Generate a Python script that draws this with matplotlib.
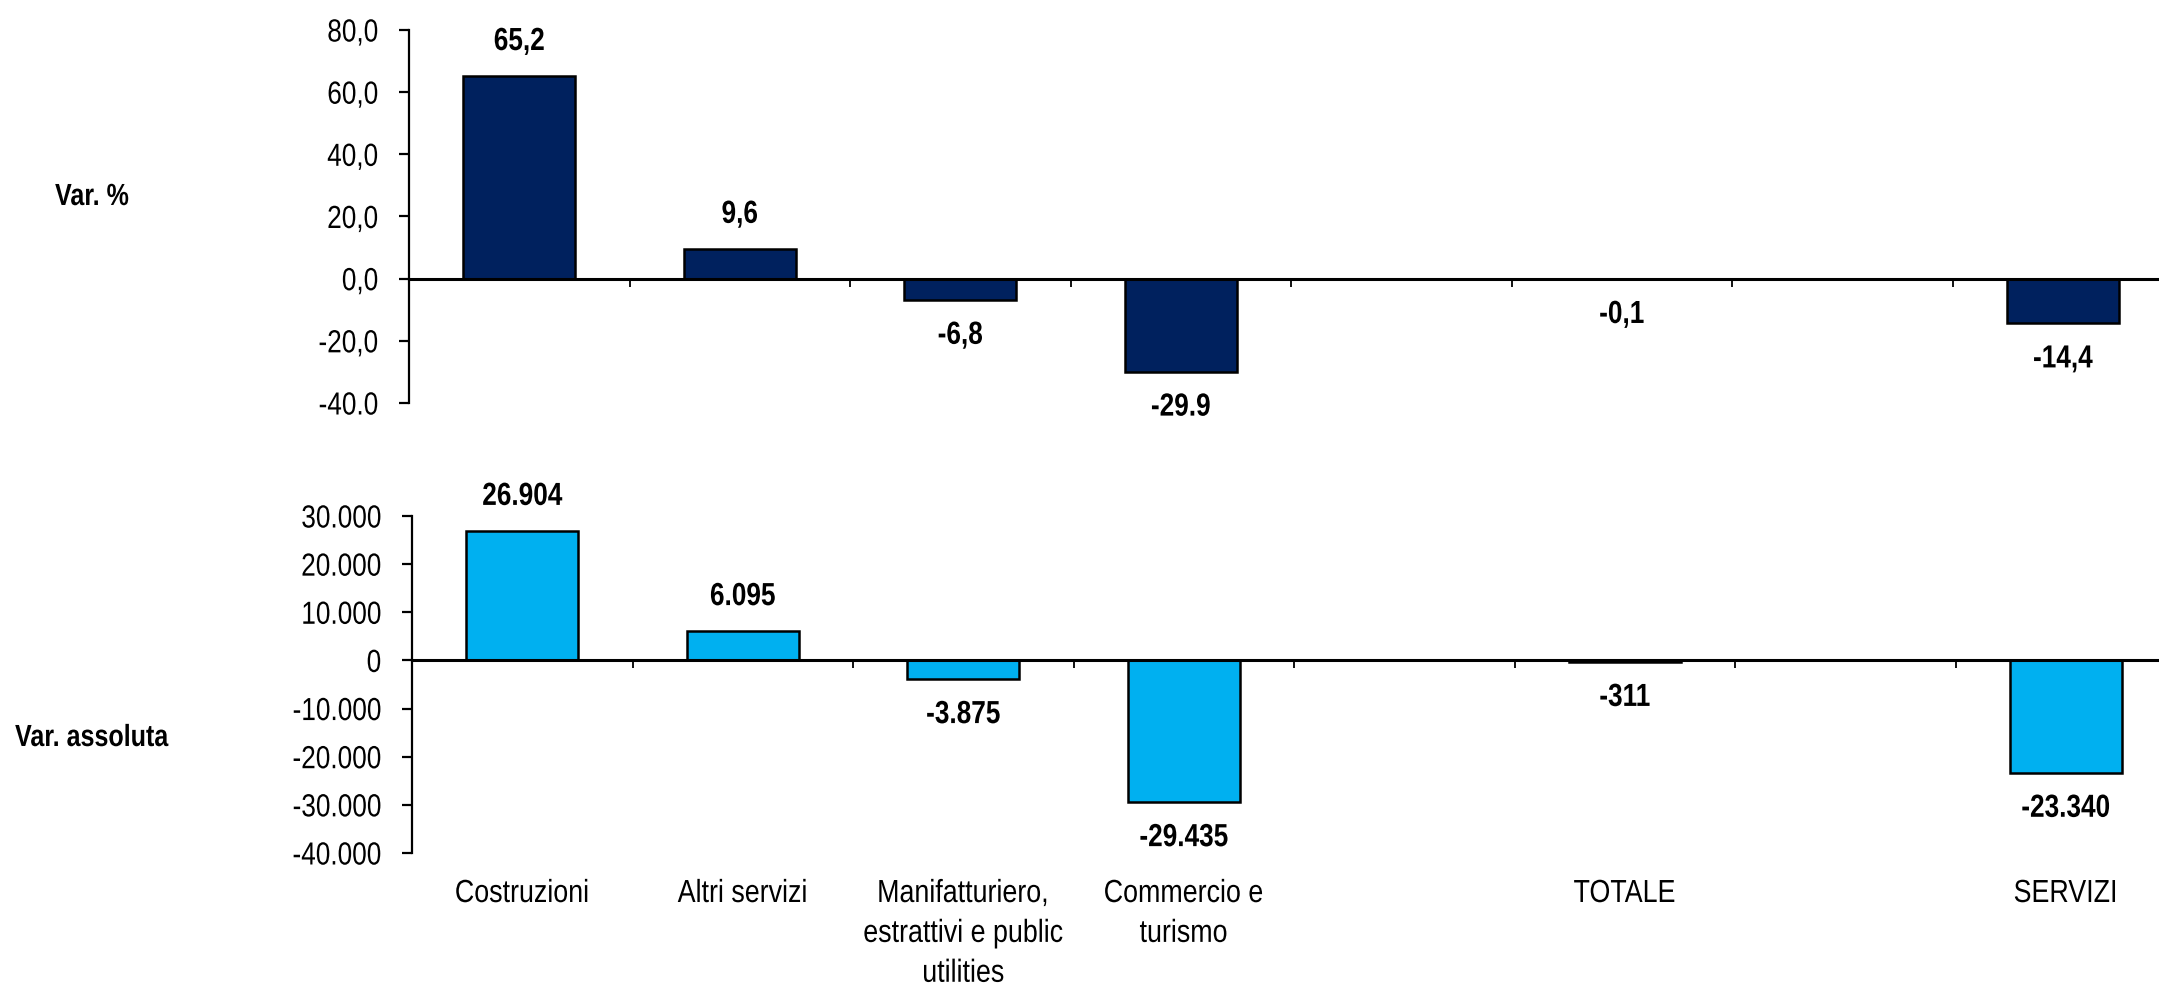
import numpy as np
import matplotlib
matplotlib.use('Agg')
import matplotlib.pyplot as plt
import matplotlib.transforms as mtransforms
from matplotlib import patheffects
from matplotlib.transforms import Affine2D

# data
categories = ['Costruzioni', 'Altri servizi', 'Manifatturiero,\nestrattivi e public\nutilities',
              'Commercio e\nturismo', '', 'TOTALE', '', 'SERVIZI']
bar_slots = [0, 1, 2, 3, 5, 7]
var_pct = [65.2, 9.6, -6.8, -29.9, -0.1, -14.4]
var_pct_labels = ['65,2', '9,6', '-6,8', '-29.9', '-0,1', '-14,4']
var_abs = [26904, 6095, -3875, -29435, -311, -23340]
var_abs_labels = ['26.904', '6.095', '-3.875', '-29.435', '-311', '-23.340']
pct_ticks = [80, 60, 40, 20, 0, -20, -40]
pct_ticklabels = ['80,0', '60,0', '40,0', '20,0', '0,0', '-20,0', '-40.0']
abs_ticks = [30000, 20000, 10000, 0, -10000, -20000, -30000, -40000]
abs_ticklabels = ['30.000', '20.000', '10.000', '0', '-10.000', '-20.000', '-30.000', '-40.000']

plt.rcParams['font.family'] = ['Liberation Sans', 'DejaVu Sans']


class Narrow(patheffects.AbstractPathEffect):
    # squeeze glyphs horizontally, the reference uses a narrow font
    def __init__(self, sx=0.82, anchor='center'):
        super().__init__()
        self.sx = sx
        self.anchor = anchor

    def draw_path(self, renderer, gc, tpath, affine, rgbFace=None):
        ext = tpath.get_extents()
        if self.anchor == 'right':
            x0 = ext.x1
        elif self.anchor == 'left':
            x0 = ext.x0
        else:
            x0 = (ext.x0 + ext.x1) / 2
        t = Affine2D().translate(-x0, 0).scale(self.sx, 1).translate(x0, 0)
        renderer.draw_path(gc, tpath, t + affine, rgbFace)


W, H = 2159, 985
fig = plt.figure(figsize=(W / 100, H / 100), dpi=100)

ax1 = fig.add_axes([409 / W, (H - 403) / H, 1764 / W, (403 - 30) / H])
ax2 = fig.add_axes([412 / W, (H - 853) / H, 1764 / W, (853 - 516) / H])


def style(ax, ticks, ticklabels, ylim):
    ax.set_xlim(0, 8)
    ax.set_ylim(*ylim)
    for s in ['top', 'right']:
        ax.spines[s].set_visible(False)
    ax.spines['bottom'].set_position(('data', 0))
    ax.spines['bottom'].set_linewidth(2.2)
    ax.spines['left'].set_linewidth(1.6)
    ax.set_xticks(np.arange(1, 8))
    ax.set_xticklabels([])
    ax.tick_params(axis='x', direction='out', length=6, width=1.3)
    ax.set_yticks(ticks)
    ax.set_yticklabels(ticklabels)
    ax.tick_params(axis='y', direction='out', length=7, width=1.6, labelsize=23, pad=15)
    for lab in ax.get_yticklabels():
        lab.set_path_effects([Narrow(anchor='right')])


style(ax1, pct_ticks, pct_ticklabels, (-40, 80))
style(ax2, abs_ticks, abs_ticklabels, (-40000, 30000))

x = np.array(bar_slots) + 0.5
ax1.bar(x, var_pct, width=0.51, color='#00215E', edgecolor='black', linewidth=1.8)
ax2.bar(x, var_abs, width=0.51, color='#00B0F0', edgecolor='black', linewidth=1.8)

for ax, vals, labs in [(ax1, var_pct, var_pct_labels), (ax2, var_abs, var_abs_labels)]:
    for xi, v, lab in zip(x, vals, labs):
        off = 34 if v >= 0 else -36
        ax.annotate(lab, (xi, v), xytext=(0, off), textcoords='offset pixels',
                    ha='center', va='center', fontsize=23, fontweight='bold',
                    path_effects=[Narrow()])

# category labels under the lower panel
trans = mtransforms.blended_transform_factory(ax2.transData, fig.transFigure)
for i, cat in enumerate(categories):
    if cat:
        ax2.text(i + 0.5, (H - 879) / H, cat, transform=trans, ha='center', va='top',
                 fontsize=23, linespacing=1.43, path_effects=[Narrow(sx=0.84)])

fig.text(55 / W, (H - 197) / H, 'Var. %', ha='left', va='center', fontsize=22,
         fontweight='bold', path_effects=[Narrow(anchor='left')])
fig.text(15 / W, (H - 738) / H, 'Var. assoluta', ha='left', va='center', fontsize=22,
         fontweight='bold', path_effects=[Narrow(anchor='left')])

fig.savefig('out.png', dpi=100)
